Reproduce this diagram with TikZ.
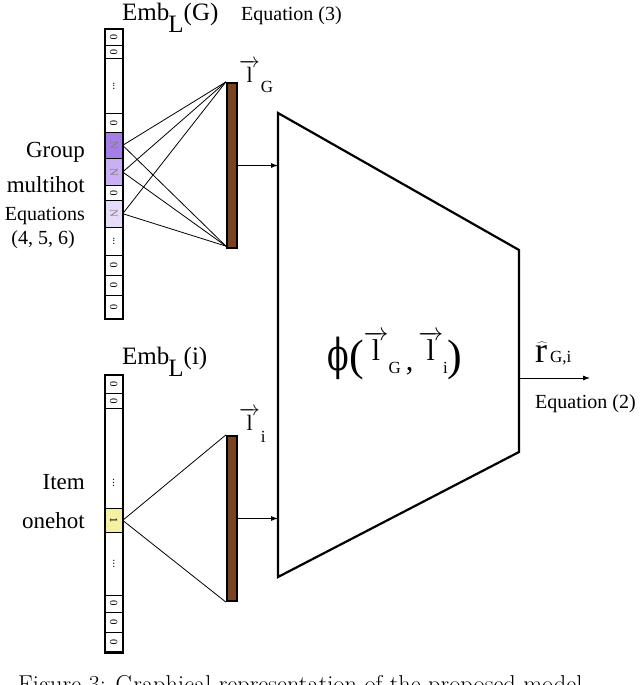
\documentclass[tikz,border=0pt]{standalone}
\usepackage{fontspec}
\usepackage{graphicx}
\newfontfamily\tnr{Liberation Serif}
\newfontfamily\dvs{DejaVu Serif}
\usetikzlibrary{arrows.meta}
\definecolor{purA}{HTML}{A47FE6}
\definecolor{purB}{HTML}{C8B0F2}
\definecolor{purC}{HTML}{E6DCF7}
\definecolor{yelA}{HTML}{F4F1A2}
\definecolor{brn}{HTML}{7A4420}
\newcommand{\fs}[1]{\fontsize{#1}{#1}\selectfont}
\newcommand{\vecl}{\ensuremath{\overrightarrow{\hbox{l}}}}
\newcommand{\rz}{\rotatebox{-90}{0}}
\newcommand{\rn}{\textcolor{gray}{\rotatebox{-90}{N}}}
\newcommand{\rone}{\rotatebox{-90}{1}}
\newcommand{\rdots}{\rotatebox{-90}{...}}
\tikzset{
  embcell/.style={draw, line width=0.7pt, minimum width=17pt, inner sep=0pt, anchor=north west, font=\tnr\fs{11}},
  colbox/.style={draw, line width=2.2pt},
  bar/.style={draw, line width=2.2pt, fill=brn, minimum width=10pt, minimum height=165pt, inner sep=0pt},
  conn/.style={line width=0.8pt},
  arr/.style={line width=0.8pt, -{Latex[length=7pt,width=5pt]}},
  lab/.style={font=\tnr\fs{23}, anchor=base east, inner sep=0pt},
  eqlab/.style={font=\tnr\fs{20}, inner sep=0pt},
}
\newcommand{\cellnode}[5]{\node[embcell, fill=#4, minimum height=#3pt] (#1) at (105,#2) {#5};}
\begin{document}
\begin{tikzpicture}[x=1pt,y=-1pt]
\useasboundingbox (0,0) rectangle (640,685);
% ---- group column
\cellnode{g1}{29}{16}{white}{\rz}
\cellnode{g2}{45}{13.3}{white}{\rz}
\cellnode{g3}{58.3}{55}{white}{\rdots}
\cellnode{g4}{113.3}{18.4}{white}{\rz}
\cellnode{g5}{131.7}{26.6}{purA}{\rn}
\cellnode{g6}{158.3}{26.7}{purB}{\rn}
\cellnode{g7}{185}{15}{white}{\rz}
\cellnode{g8}{200}{26.7}{purC}{\rn}
\cellnode{g9}{226.7}{28.3}{white}{\rdots}
\cellnode{g10}{255}{20}{white}{\rz}
\cellnode{g11}{275}{20}{white}{\rz}
\cellnode{g12}{295}{23.3}{white}{\rz}
\draw[colbox] (g1.north west) rectangle (g12.south east);
% ---- item column
\cellnode{i1}{375}{18.3}{white}{\rz}
\cellnode{i2}{393.3}{15}{white}{\rz}
\cellnode{i3}{408.3}{100}{white}{}
\node[font=\tnr\fs{11}, inner sep=0pt] (i3d) at (113.5,483) {\rdots};
\cellnode{i4}{508.3}{23.4}{yelA}{\rone}
\cellnode{i5}{531.7}{63.3}{white}{\rdots}
\cellnode{i6}{595}{16.7}{white}{\rz}
\cellnode{i7}{611.7}{20}{white}{\rz}
\cellnode{i8}{631.7}{20}{white}{\rz}
\draw[colbox] (i1.north west) rectangle (i8.south east);
% ---- bars
\node[bar] (barG) at (232,165.5) {};
\node[bar] (barI) at (232,518.5) {};
% ---- connections
\foreach \c in {g5,g6,g8}{
  \draw[conn] (\c.east) -- (barG.north west);
  \draw[conn] (\c.east) -- ([yshift=3pt]barG.south west);
}
\draw[conn] (i4.east) -- (barI.north west);
\draw[conn] (i4.east) -- (barI.south west);
% ---- trapezoid
\coordinate (tTL) at (278,113);
\coordinate (tTR) at (519,250);
\coordinate (tBR) at (519,452);
\coordinate (tBL) at (278,577);
\draw[line width=2.2pt, line join=miter] (tTL) -- (tTR) -- (tBR) -- (tBL) -- cycle;
\draw[arr] (barG.east) -- (barG.east -| tTL);
\draw[arr] (barI.east) -- (barI.east -| tTL);
\coordinate (outS) at (519,378);
\coordinate (outE) at (590,378);
\draw[arr] (outS) -- (outE);
% ---- labels
\node[font=\tnr\fs{25}, anchor=base west, inner sep=0pt] (embG) at (122,21) {Emb\kern-1pt\raisebox{-12pt}{L}(G)};
\node[eqlab, anchor=base west] (eq3) at (241,21) {Equation (3)};
\node[font=\tnr\fs{25}, anchor=base west, inner sep=0pt] (embI) at (122,364) {Emb\kern-1pt\raisebox{-12pt}{L}(i)};
\node[font=\tnr\fs{22}, anchor=base west, inner sep=0pt] (lG) at (239,82) {\vecl\kern1pt\raisebox{-10pt}{\fs{17}G}};
\node[font=\tnr\fs{22}, anchor=base west, inner sep=0pt] (lI) at (239,430) {\vecl\kern1pt\raisebox{-12pt}{\fs{17}i}};
\node[lab] (grp) at (85,157) {Group};
\node[lab] (mh) at (85,192) {multihot};
\node[eqlab, anchor=base east] (eqs) at (85,220) {Equations};
\node[eqlab, anchor=base] (eqn) at (43,244) {(4, 5, 6)};
\node[lab] (itm) at (85,489) {Item};
\node[lab] (oh) at (85,528) {onehot};
\node[font=\tnr, anchor=base, inner sep=0pt] (phi) at (395,370)
  {{\fs{44}\scalebox{0.72}[1]{\dvs ϕ}(}\raisebox{10pt}{\fs{30}\vecl}\raisebox{-3pt}{\fs{17}G}{\fs{30}\,,\,}\raisebox{10pt}{\fs{30}\vecl}\raisebox{-3pt}{\fs{17}i}{\fs{44})}};
\node[font=\tnr, anchor=base west, inner sep=0pt] (rhat) at (535,362) {{\fs{36}$\widehat{\hbox{r\kern2pt}}$}\kern1pt{\fs{17}G,i}};
\node[eqlab, anchor=base west] (eq2) at (535,408) {Equation (2)};
% ---- cut-off caption
\begin{scope}
\clip (0,0) rectangle (640,685);
\node[font=\fs{24.4}, anchor=base west, inner sep=0pt] (cap) at (18,692) {Figure 3: Graphical representation of the proposed model};
\end{scope}
\end{tikzpicture}
\end{document}
